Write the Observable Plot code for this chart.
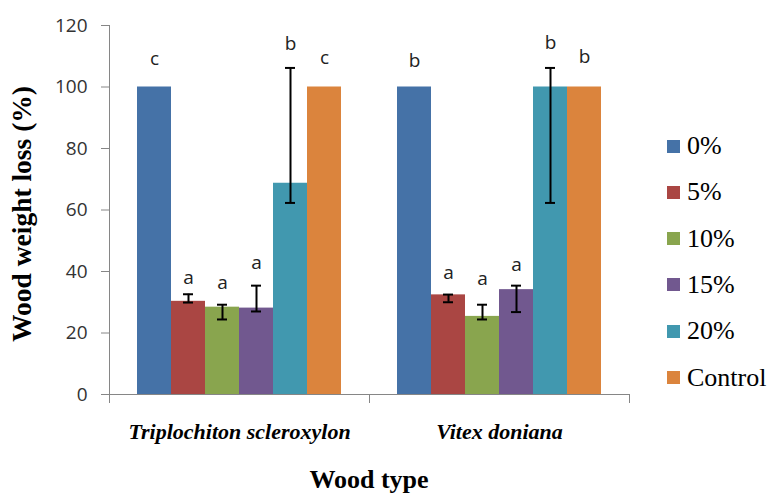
<!DOCTYPE html>
<html>
<head>
<meta charset="utf-8">
<script src="https://cdn.jsdelivr.net/npm/d3@7"></script>
<script src="https://cdn.jsdelivr.net/npm/@observablehq/plot@0.6"></script>
<style>
  html, body { margin: 0; padding: 0; background: #fff; }
  #wrap { position: relative; width: 773px; height: 494px; overflow: hidden; }
  #wrap svg { position: absolute; left: 0; top: 0; }
  .serif { font-family: "Liberation Serif", "Times New Roman", serif; color: #000; white-space: nowrap; position: absolute; }
  .ytitle { left: 22px; top: 214px; transform: translate(-50%, -50%) rotate(-90deg); font-size: 27.5px; font-weight: bold; }
  .xtitle { left: 369px; top: 480px; transform: translate(-50%, -50%); font-size: 26px; font-weight: bold; }
  .item { left: 667px; height: 30px; display: flex; align-items: center; font-size: 26px; transform: translateY(-50%); }
  .sw { width: 13px; height: 13px; margin-right: 7px; display: inline-block; }
</style>
</head>
<body>
<div id="wrap"></div>
<script>
const woods = ["Triplochiton scleroxylon", "Vitex doniana"];
const series = ["0%", "5%", "10%", "15%", "20%", "Control"];
const seriesColors = ["#4572A7", "#AA4643", "#89A54E", "#71588F", "#4198AF", "#DB843D"];

const tripValues   = [100, 30.3, 28.4, 28.1, 68.7, 100];
const vitexValues  = [100, 32.4, 25.4, 34.1, 100, 100];
const tripErrLow   = [null, 29.9, 24.4, 27.0, 62.3, null];
const tripErrHigh  = [null, 32.6, 29.2, 35.4, 106.2, null];
const vitexErrLow  = [null, 30.0, 24.4, 26.8, 62.3, null];
const vitexErrHigh = [null, 32.5, 29.2, 35.4, 106.2, null];
const tripLetters  = ["c", "a", "a", "a", "b", "c"];
const vitexLetters = ["b", "a", "a", "a", "b", "b"];
const tripLetterAt  = [107.0, 36.0, 34.4, 40.9, 111.9, 107.5];
const vitexLetterAt = [106.4, 37.4, 35.7, 40.3, 112.4, 107.7];
const yTicks = [0, 20, 40, 60, 80, 100, 120];
const yTitle = "Wood weight loss (%)";
const xTitle = "Wood type";

const table = [
  [woods[0], tripValues, tripErrLow, tripErrHigh, tripLetters, tripLetterAt],
  [woods[1], vitexValues, vitexErrLow, vitexErrHigh, vitexLetters, vitexLetterAt]
];
const rows = [];
for (const [wood, vals, lo, hi, letters, at] of table) {
  series.forEach((s, i) => rows.push({wood, series: s, value: vals[i], lo: lo[i], hi: hi[i], letter: letters[i], letterAt: at[i]}));
}
const errRows = rows.filter(d => d.lo != null);
const serifStack = "'Liberation Serif', 'Times New Roman', serif";

const plot = Plot.plot({
  width: 773,
  height: 494,
  marginLeft: 109,
  marginRight: 144,
  marginTop: 25,
  marginBottom: 100,
  style: {background: "transparent", overflow: "visible"},
  fx: {domain: woods, padding: 0, label: null},
  x: {domain: series, paddingInner: 0, paddingOuter: 0.768, axis: null},
  y: {domain: [0, 120]},
  color: {domain: series, range: seriesColors},
  marks: [
    Plot.barY(rows, {fx: "wood", x: "series", y: "value", fill: "series"}),
    Plot.ruleY([0], {stroke: "#868686"}),
    Plot.ruleX(errRows, {fx: "wood", x: "series", y1: "lo", y2: "hi", stroke: "#000", strokeWidth: 2}),
    Plot.tickY(errRows, {fx: "wood", x: "series", y: "lo", stroke: "#000", strokeWidth: 2, insetLeft: 12, insetRight: 12}),
    Plot.tickY(errRows, {fx: "wood", x: "series", y: "hi", stroke: "#000", strokeWidth: 2, insetLeft: 12, insetRight: 12}),
    Plot.text(rows, {fx: "wood", x: "series", y: "letterAt", text: "letter", lineAnchor: "bottom",
      fontSize: 19, fontFamily: "'Open Sans', sans-serif", fill: "#222"}),
    Plot.axisY({ticks: yTicks, tickSize: 8, tickPadding: 14, stroke: "#868686", fill: "#333",
      fontSize: 19, fontFamily: "'Open Sans', sans-serif", label: null}),
    Plot.axisFx({anchor: "bottom", tickSize: 0, tickPadding: 29, fontSize: 22, fontWeight: "bold",
      fontStyle: "italic", fontFamily: serifStack, fill: "#000", label: null})
  ]
});

const wrap = document.getElementById("wrap");
wrap.appendChild(plot);

// Axis line and category boundary ticks, placed through the plot's own scales
const fxS = plot.scale("fx");
const yS = plot.scale("y");
const y0 = yS.apply(0), yTop = yS.apply(120);
const left = fxS.apply(woods[0]);
const edges = [left, ...woods.map(w => fxS.apply(w) + fxS.bandwidth)];
const g = d3.select(plot).append("g").attr("stroke", "#868686").attr("stroke-width", 1);
g.append("line").attr("x1", left + 0.5).attr("x2", left + 0.5).attr("y1", yTop).attr("y2", y0);
edges.forEach(x => g.append("line").attr("x1", x + 0.5).attr("x2", x + 0.5).attr("y1", y0).attr("y2", y0 + 9));

// Titles
const yt = document.createElement("div"); yt.className = "serif ytitle"; yt.textContent = yTitle; wrap.appendChild(yt);
const xt = document.createElement("div"); xt.className = "serif xtitle"; xt.textContent = xTitle; wrap.appendChild(xt);

// Legend (right side)
series.forEach((s, i) => {
  const it = document.createElement("div"); it.className = "serif item";
  it.style.top = (146 + i * 46.3) + "px";
  const sw = document.createElement("span"); sw.className = "sw"; sw.style.background = seriesColors[i];
  const tx = document.createElement("span"); tx.textContent = s;
  it.appendChild(sw); it.appendChild(tx); wrap.appendChild(it);
});
</script>
</body>
</html>
